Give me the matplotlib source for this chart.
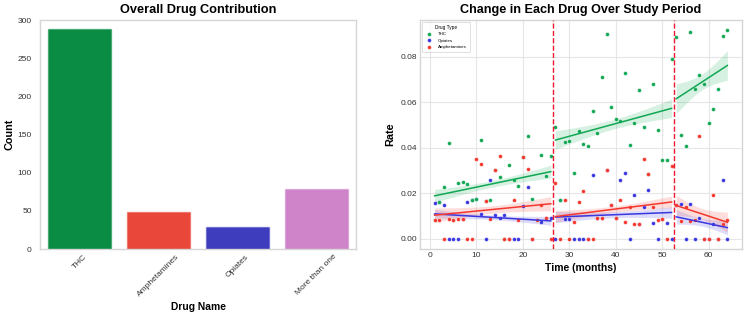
import numpy as np
import matplotlib
matplotlib.use("Agg")
import matplotlib.pyplot as plt

plt.rcParams['font.family'] = ['Liberation Sans', 'DejaVu Sans']

# ---------------- data ----------------
drug_names = ["THC", "Amphetamines", "Opiates", "More than one"]
drug_counts = [288, 49, 29, 79]
bar_colors = ["#0a8c45", "#e8473a", "#3e3dbd", "#cf84c9"]

months = list(range(1, 65))
thc = [0.008, 0.016, 0.0226, 0.042, 0.0083, 0.0247, 0.0248, 0.024, 0.0168, 0.0175,
       0.0435, 0.0166, 0.0172, 0.030, 0.027, 0.0, 0.0322, 0.0258, 0.0232, 0.036,
       0.0454, 0.0175, 0.008, 0.037, 0.0276, 0.0364,
       0.0492, 0.0172, 0.0425, 0.0431, 0.0289, 0.0473, 0.0418, 0.041, 0.056, 0.0463,
       0.0714, 0.090, 0.0581, 0.0527, 0.0518, 0.0731, 0.0412, 0.051, 0.0655, 0.049,
       0.0286, 0.068, 0.048, 0.0346, 0.0346, 0.0793,
       0.089, 0.0455, 0.0407, 0.091, 0.066, 0.0721, 0.068, 0.0508, 0.0572, 0.066,
       0.0892, 0.0917]
opiates = [0.0158, 0.016, 0.015, 0.0, 0.0, 0.0, 0.0085, 0.016, 0.0168, 0.0175,
           0.011, 0.0, 0.026, 0.0102, 0.009, 0.0102, 0.0, 0.0, 0.0, 0.0143,
           0.0228, 0.0, 0.008, 0.0073, 0.0092, 0.009,
           0.0, 0.0172, 0.0085, 0.0085, 0.0, 0.0, 0.0, 0.0, 0.028, 0.0092,
           0.0092, 0.030, 0.0146, 0.0089, 0.026, 0.029, 0.0, 0.019, 0.0066, 0.014,
           0.0214, 0.0068, 0.0, 0.0088, 0.007, 0.0,
           0.0148, 0.0153, 0.0, 0.0153, 0.0, 0.0089, 0.0, 0.0, 0.0065, 0.0,
           0.0256, 0.0]
amphetamines = [0.008, 0.008, 0.0, 0.0086, 0.0083, 0.0085, 0.0085, 0.0, 0.0, 0.0352,
                0.0327, 0.0166, 0.0088, 0.030, 0.0363, 0.0, 0.0, 0.0172, 0.008, 0.036,
                0.0305, 0.0, 0.008, 0.015, 0.0092, 0.0,
                0.0247, 0.0, 0.0172, 0.0, 0.0073, 0.0159, 0.0209, 0.0, 0.0, 0.0092,
                0.0092, 0.030, 0.0146, 0.0089, 0.0172, 0.0074, 0.0139, 0.0066, 0.0066, 0.0349,
                0.0286, 0.0137, 0.008, 0.0088, 0.0, 0.032,
                0.0148, 0.0076, 0.0137, 0.0076, 0.0083, 0.045, 0.0, 0.0, 0.019, 0.0,
                0.0064, 0.0082]
period_breaks = [26.5, 52.5]
period_ranges = [(1, 26), (27, 52), (53, 64)]

series_names = ["THC", "Opiates", "Amphetamines"]
series_colors = {"THC": "#10a854", "Opiates": "#3a36e0", "Amphetamines": "#f5382e"}
series_values = {"THC": thc, "Opiates": opiates, "Amphetamines": amphetamines}

# ---------------- figure ----------------
fig = plt.figure(figsize=(7.44, 3.16), dpi=100)
spine_col = "#d6d6d6"

# Left: bar chart
ax1 = fig.add_axes([0.0538, 0.212, 0.4247, 0.7247])
ax1.bar(range(len(drug_names)), drug_counts, width=0.8, color=bar_colors,
        edgecolor=[matplotlib.colors.to_rgba(c, 0.45) for c in bar_colors], linewidth=1.0)
ax1.set_xlim(-0.5, len(drug_names) - 0.5)
ax1.set_ylim(0, 300)
ax1.set_yticks(range(0, 301, 50))
ax1.set_xticks(range(len(drug_names)))
ax1.set_xticklabels(drug_names, rotation=45, fontsize=6.0, color="#333333")
ax1.tick_params(axis='y', labelsize=6.0, colors="#333333", length=0, pad=6)
ax1.tick_params(axis='x', length=0, pad=3, colors="#333333")
ax1.set_title("Overall Drug Contribution", fontsize=9.2, fontweight="bold", pad=5)
ax1.set_ylabel("Count", fontsize=7.8, fontweight="bold", labelpad=2)
ax1.set_xlabel("Drug Name", fontsize=7.4, fontweight="bold", labelpad=3)
for s in ax1.spines.values():
    s.set_color(spine_col)
    s.set_linewidth(1.0)

# Right: scatter + regression
ax2 = fig.add_axes([0.5645, 0.212, 0.4328, 0.7247])
ax2.set_axisbelow(True)
ax2.grid(True, color="#e6e6e6", linewidth=0.8)
x_all = np.array(months, dtype=float)
draw_order = ["Opiates", "THC", "Amphetamines"]
handles = {}
for name in draw_order:
    y = np.array(series_values[name])
    h = ax2.scatter(x_all, y, s=8, color=series_colors[name], edgecolor="white",
                    linewidth=0.3, zorder=3, label=name)
    handles[name] = h

for name in series_names:
    y_all = np.array(series_values[name])
    col = series_colors[name]
    for lo, hi in period_ranges:
        m = (x_all >= lo) & (x_all <= hi)
        xs, ys = x_all[m], y_all[m]
        n = len(xs)
        b, a = np.polyfit(xs, ys, 1)
        xx = np.linspace(lo, hi, 60)
        yy = a + b * xx
        resid = ys - (a + b * xs)
        s_err = np.sqrt(np.sum(resid ** 2) / (n - 2))
        sxx = np.sum((xs - xs.mean()) ** 2)
        se = s_err * np.sqrt(1.0 / n + (xx - xs.mean()) ** 2 / sxx)
        band = 0.65 * se
        ax2.fill_between(xx, yy - band, yy + band, color=col, alpha=0.17,
                         linewidth=0, zorder=2)
        ax2.plot(xx, yy, color=col, linewidth=1.1, zorder=4)

for xb in period_breaks:
    ax2.axvline(xb, color="#f0192e", linestyle="--", linewidth=1.0, zorder=5)

ax2.set_xlim(-2.15, 67.15)
ax2.set_ylim(-0.0046, 0.0963)
ax2.set_xticks(range(0, 61, 10))
ax2.set_yticks([0.0, 0.02, 0.04, 0.06, 0.08])
ax2.set_yticklabels(["0.00", "0.02", "0.04", "0.06", "0.08"])
ax2.tick_params(axis='both', labelsize=6.0, colors="#333333", length=0, pad=2)
ax2.set_title("Change in Each Drug Over Study Period", fontsize=9.1,
              fontweight="bold", pad=5)
ax2.set_ylabel("Rate", fontsize=7.8, fontweight="bold", labelpad=4)
ax2.set_xlabel("Time (months)", fontsize=7.5, fontweight="bold", labelpad=3)
for s in ax2.spines.values():
    s.set_color(spine_col)
    s.set_linewidth(1.0)

leg = ax2.legend([handles[n] for n in series_names], series_names, title="Drug Type",
                 loc="upper left", fontsize=3.2, title_fontsize=3.4, markerscale=1.0,
                 frameon=True, borderpad=0.6, labelspacing=0.5, handletextpad=1.0,
                 borderaxespad=0.5)
leg.get_frame().set_edgecolor("#d0d0d0")
leg.get_frame().set_linewidth(0.6)

fig.savefig("out.png", dpi=100)
